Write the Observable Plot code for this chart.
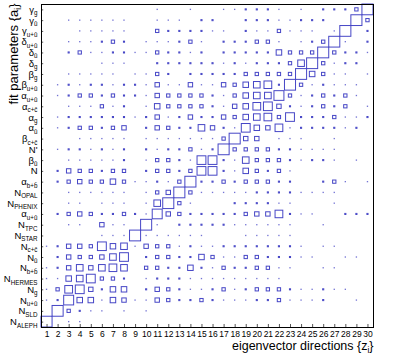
<!DOCTYPE html>
<html><head><meta charset="utf-8">
<script src="https://cdn.jsdelivr.net/npm/d3@7"></script>
<script src="https://cdn.jsdelivr.net/npm/@observablehq/plot@0.6"></script>
<style>html,body{margin:0;padding:0;background:#fff;}</style>
</head><body>
<div id="chart"></div>
<script>
// eigenvector directions (x) and fit-parameter rows (y, bottom to top)
const columns = d3.range(1, 31);
const rowLabels = [
  "N_ALEPH", "N_SLD", "N_u+ū", "N_g", "N_HERMES", "N_b+b\u0304", "N_ū", "N_c+c\u0304", "N_STAR", "N_TPC",
  "α_u+ū", "N_PHENIX", "N_OPAL", "α_b+b\u0304", "N", "β_ū", "N'", "β_c+c\u0304", "α_ū", "α_g",
  "α_c+c\u0304", "α_u+ū", "β_u+ū", "β_g", "δ_g", "δ_ū", "δ_u+ū", "γ_u+ū", "γ_ū", "γ_g"
];
const xTitle = "eigenvector directions {z_i|}";
const yTitle = "fit parameters {a_i|}";

// box size in tenths of a cell; first list = top row (γ_g), last list = bottom row (N_ALEPH)
const boxRows = [
  [0,0,0,0,0,0,0,0,0, 0,1,0,0,1,0,0,1,1,2,2, 2,1,0,1,0,2,2,2,3,10],
  [0,0,1,1,1,1,1,1,0, 0,1,1,1,0,2,2,0,0,2,2, 2,1,1,2,2,2,0,0,10,3],
  [0,0,0,1,1,1,1,1,0, 0,3,2,2,2,2,1,1,0,2,1, 1,3,1,1,1,0,1,10,0,2],
  [0,0,1,1,1,2,3,2,0, 1,1,1,2,3,1,0,2,2,2,3, 3,1,0,1,2,3,10,1,0,2],
  [0,0,2,3,1,1,2,2,1, 1,3,2,2,1,2,0,2,2,2,2, 2,5,3,3,3,10,3,2,2,1],
  [0,0,0,0,0,1,1,1,0, 0,2,2,2,2,2,2,1,2,1,2, 2,2,3,6,10,3,1,2,2,0],
  [0,0,1,1,1,1,1,0,1, 1,3,2,0,2,2,2,2,2,3,3, 3,3,3,10,5,3,1,1,0,1],
  [0,1,2,1,2,2,1,2,2, 1,4,1,1,4,1,1,4,3,5,6, 7,2,10,3,1,2,1,1,1,0],
  [0,1,2,3,3,2,3,2,2, 1,4,3,3,3,3,2,1,3,5,6, 6,9,3,1,2,3,2,3,1,0],
  [0,0,1,1,1,3,1,2,0, 1,5,3,3,3,3,2,1,4,5,7, 8,4,2,1,2,3,2,3,0,1],
  [0,1,2,2,2,2,2,2,1, 2,4,1,2,4,2,2,4,3,5,6, 7,3,8,2,2,2,3,1,1,2],
  [0,1,2,3,3,2,3,4,0, 2,4,3,2,2,6,4,2,1,8,5, 4,7,1,2,2,2,2,1,2,0],
  [0,0,0,1,1,1,1,1,0, 1,1,1,1,1,1,1,3,10,4,4, 0,1,1,1,0,0,1,0,0,0],
  [0,1,2,2,1,2,1,2,0, 2,1,2,2,3,1,2,10,3,3,3, 3,2,2,1,1,1,1,0,0,0],
  [0,0,1,1,1,1,1,2,0, 1,3,3,2,1,8,8,2,1,6,3, 3,3,2,1,2,2,1,0,1,0],
  [0,2,4,3,3,2,3,3,0, 2,3,3,2,3,8,8,2,1,5,3, 2,3,1,0,0,0,0,0,0,0],
  [0,2,3,4,3,3,5,3,1, 1,2,1,3,10,2,2,3,2,3,3, 3,2,2,0,0,2,3,1,0,1],
  [0,0,1,1,1,1,1,1,0, 1,3,4,10,3,1,1,1,1,1,2, 2,2,2,1,1,1,1,0,0,0],
  [0,0,1,1,0,1,1,1,0, 1,6,10,3,1,0,0,0,2,2,2, 2,1,1,0,0,0,1,0,0,0],
  [0,2,3,4,3,2,2,3,2, 1,9,4,3,2,2,2,2,2,3,4, 4,7,2,1,1,0,0,2,2,2],
  [0,0,1,1,0,4,1,1,0, 10,1,0,2,2,2,2,2,1,1,1, 1,1,1,0,0,1,0,0,0,0],
  [0,0,0,0,0,1,1,1,10, 1,1,1,1,1,1,0,0,0,1,1, 1,1,1,0,0,0,0,0,0,0],
  [1,2,4,4,3,8,5,6,1, 4,3,3,1,2,1,1,2,2,2,2, 2,2,2,1,0,1,1,0,0,0],
  [0,2,4,3,3,4,6,8,0, 2,3,3,2,2,5,3,1,1,3,3, 2,2,2,1,1,0,0,1,1,0],
  [1,2,4,6,4,6,7,6,0, 3,3,2,2,5,2,1,3,2,2,3, 3,1,1,0,0,1,1,0,0,0],
  [1,1,5,6,8,3,3,2,0, 1,2,2,2,1,1,1,1,1,1,1, 1,1,0,0,0,0,0,0,0,0],
  [1,3,7,8,4,2,5,5,0, 2,4,3,2,1,1,2,3,1,2,3, 3,3,2,1,1,2,1,1,0,0],
  [1,2,9,5,5,1,5,4,1, 1,4,3,2,2,3,2,1,1,1,2, 2,3,1,1,1,2,0,0,1,0],
  [0,10,3,2,1,1,0,1,0, 1,0,0,0,0,0,0,0,0,0,0, 0,0,0,0,0,0,0,0,0,0],
  [10,0,1,1,0,0,0,0,0, 0,0,0,0,0,0,0,0,0,0,0, 0,0,0,0,0,0,0,0,0,0]
];

// drawn box side as a fraction of the cell (the smallest entries are rendered as dots)
const boxFraction = v => (v === 1 ? 0.03 : v === 2 ? 0.1 : v / 10);

const cells = [];
boxRows.forEach((vals, i) => {
  const row = boxRows.length - i;
  vals.forEach((v, j) => { if (v > 0) cells.push({col: columns[j], row, level: v, size: boxFraction(v)}); });
});

const boxColor = "#4646c6";

const chart = Plot.plot({
  width: 415,
  height: 364,
  marginLeft: 41,
  marginRight: 42,
  marginTop: 4,
  marginBottom: 37,
  x: {domain: [0.5, 30.5], axis: null},
  y: {domain: [0.5, 30.5], axis: null},
  style: {fontFamily: "'Liberation Sans', Arial, Helvetica, sans-serif", fontSize: "10px", background: "white", color: "black"},
  marks: [
    Plot.rect(cells, {
      x1: d => d.col - d.size / 2, x2: d => d.col + d.size / 2,
      y1: d => d.row - d.size / 2, y2: d => d.row + d.size / 2,
      fill: "none", stroke: boxColor, strokeWidth: 1,
      strokeOpacity: d => (d.level === 1 ? 0.75 : 1)
    }),
    Plot.ruleX(columns, {x: d => d, y1: () => 0.5, y2: () => 0.78, stroke: "#555", strokeWidth: 1}),
    Plot.ruleY(columns, {y: d => d, x1: () => 0.5, x2: () => 0.7, stroke: "#555", strokeWidth: 1}),
    Plot.frame({stroke: "black", strokeWidth: 1}),
    Plot.axisX({ticks: columns, tickSize: 0, tickPadding: 3, fontSize: 8.5, tickFormat: d => String(d), label: null}),
    Plot.axisY({ticks: columns, tickSize: 0, tickPadding: 4, fontSize: 9.5, tickFormat: d => rowLabels[d - 1], label: null}),
    Plot.text([xTitle], {text: d => d, frameAnchor: "bottom-right", textAnchor: "end", lineAnchor: "bottom", dy: 22, fontSize: 12.5}),
    Plot.text([yTitle], {text: d => d, frameAnchor: "top-left", rotate: -90, textAnchor: "end", lineAnchor: "middle", dx: -28, dy: -1, fontSize: 13})
  ]
});

document.getElementById("chart").appendChild(chart);

// render "a_b|c" as a with subscript b followed by c
d3.select(chart).selectAll("text").each(function() {
  const t = this.textContent;
  const k = t.indexOf("_");
  if (k < 0) return;
  const fs = parseFloat(getComputedStyle(this).fontSize) || 10;
  const pre = t.slice(0, k);
  const parts = t.slice(k + 1).split("|");
  const sub = parts[0], post = parts[1] || "";
  const el = d3.select(this);
  el.text(null);
  el.append("tspan").text(pre);
  el.append("tspan").attr("font-size", (fs * 0.66).toFixed(2)).attr("dy", (fs * 0.26).toFixed(2)).text(sub);
  if (post) el.append("tspan").attr("font-size", fs).attr("dy", (-fs * 0.26).toFixed(2)).text(post);
});
</script>
</body></html>
